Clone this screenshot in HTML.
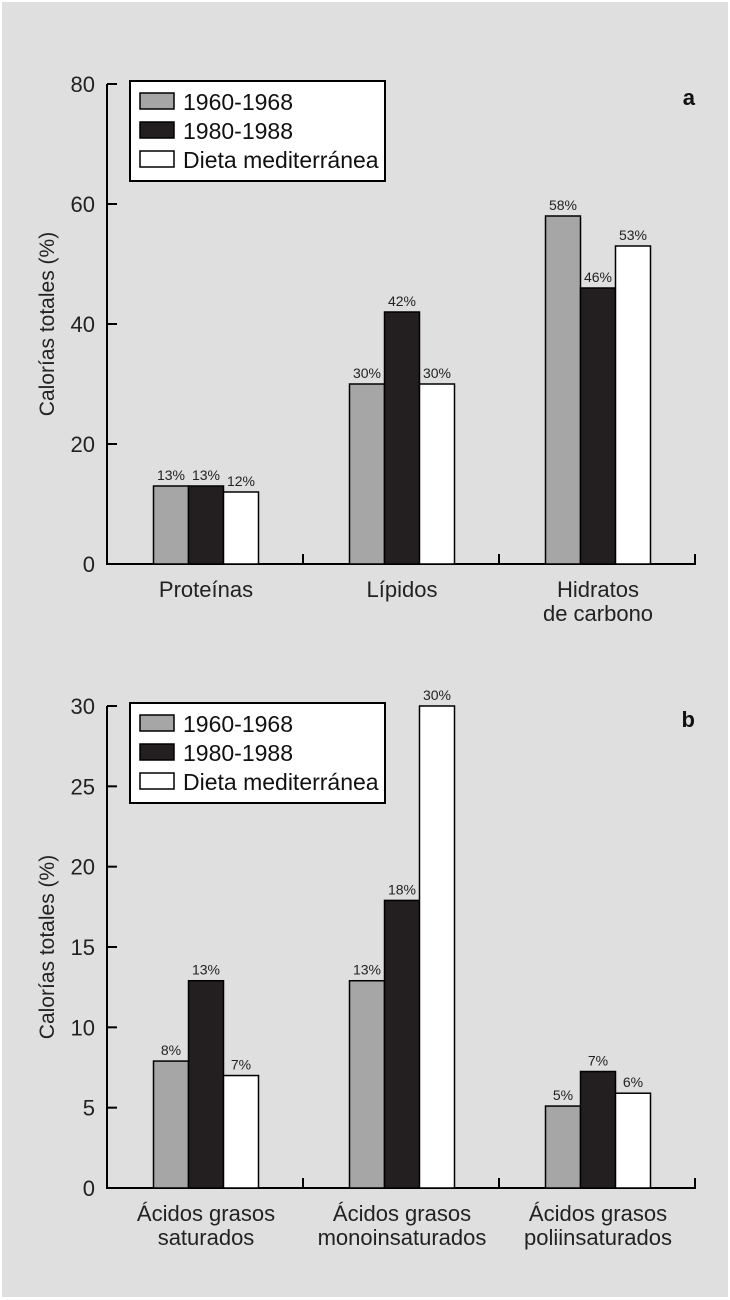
<!DOCTYPE html>
<html><head><meta charset="utf-8"><style>
html,body{margin:0;padding:0;background:#fff;}
svg{display:block;font-family:"Liberation Sans",sans-serif;}
</style></head><body>
<svg id="chart" width="730" height="1300" viewBox="0 0 730 1300">
<rect x="2" y="2" width="726" height="1295" fill="#dfdfdf"/>
</svg>
<script>
const seriesNames = ["1960-1968","1980-1988","Dieta mediterránea"];
const seriesFills = ["#a6a6a6","#231f20","#ffffff"];
const catsA = [["Proteínas"],["Lípidos"],["Hidratos","de carbono"]];
const a1960 = [13,30,58];
const a1980 = [13,42,46];
const aMed = [12,30,53];
const labelsA1960 = ["13%","30%","58%"];
const labelsA1980 = ["13%","42%","46%"];
const labelsAMed = ["12%","30%","53%"];
const ticksA = [0,20,40,60,80];
const catsB = [["Ácidos grasos","saturados"],["Ácidos grasos","monoinsaturados"],["Ácidos grasos","poliinsaturados"]];
const b1960 = [7.9,12.9,5.1];
const b1980 = [12.9,17.9,7.25];
const bMed = [7,30,5.9];
const labelsB1960 = ["8%","13%","5%"];
const labelsB1980 = ["13%","18%","7%"];
const labelsBMed = ["7%","30%","6%"];
const ticksB = [0,5,10,15,20,25,30];

const NS="http://www.w3.org/2000/svg";
const svg=document.getElementById('chart');
function mk(tag,attrs,parent){const e=document.createElementNS(NS,tag);for(const k in attrs)e.setAttribute(k,attrs[k]);(parent||svg).appendChild(e);return e;}

function panel(id,y0,y1,max,ticks,cats,series,labels,letter,legY){
  const g=mk('g',{});
  
  
  const xL=107,xR=695;
  const y=v=>y1-(v/max)*(y1-y0);
  const bw=(xR-xL)/cats.length;
  const ax=mk('path',{d:`M${xL} ${y0} V${y1} H${xR} V${y1-10}`,fill:'none',stroke:'#000','stroke-width':2},g);
  
  
  for(let i=1;i<cats.length;i++){
    const t=mk('line',{x1:xL+bw*i,x2:xL+bw*i,y1:y1,y2:y1-10,stroke:'#000','stroke-width':2},g);
    
    
  }
  ticks.forEach(v=>{
    const t=mk('line',{x1:xL,x2:xL+10,y1:y(v),y2:y(v),stroke:'#000','stroke-width':2},g);
    
    
    const l=mk('text',{x:xL-12,y:y(v)+8,'text-anchor':'end','font-size':22,fill:'#222'},g);
    l.textContent=v;
    
    
  });
  const tt=mk('text',{x:0,y:0,'text-anchor':'middle','font-size':21,fill:'#222',transform:`translate(54,${(y0+y1)/2}) rotate(-90)`},g);
  tt.textContent='Calorías totales (%)';
  
  
  const barW=35;
  cats.forEach((c,i)=>{
    const cx=xL+bw*(i+0.5)+1;
    series.forEach((s,j)=>{
      const x=cx-1.5*barW+j*barW;
      const r=mk('rect',{x:x,y:y(s[i]),width:barW,height:y1-y(s[i]),fill:seriesFills[j],stroke:'#000','stroke-width':1.5},g);
      
      
      const t=mk('text',{x:x+barW/2,y:y(s[i])-6,'text-anchor':'middle','font-size':14,fill:'#222'},g);
      t.textContent=labels[j][i];
      
      
    });
    c.forEach((line,k)=>{
      const t=mk('text',{x:cx,y:y1+33+k*24,'text-anchor':'middle','font-size':22,fill:'#222'},g);
      t.textContent=line;
      
      
    });
  });
  const lg=mk('g',{},g);
  
  
  mk('rect',{x:130,y:legY,width:255,height:100,fill:'#fff',stroke:'#000','stroke-width':2},lg);
  seriesNames.forEach((n,j)=>{
    const sw=mk('rect',{x:140,y:legY+12+j*29,width:34,height:16,fill:seriesFills[j],stroke:'#000','stroke-width':1.5},lg);
    
    
    const t=mk('text',{x:183,y:legY+29+j*29,'font-size':23,fill:'#111'},lg);
    t.textContent=n;
    
    
  });
  const L=mk('text',{x:695,y:y0+21,'text-anchor':'end','font-size':22,'font-weight':'bold',fill:'#111'},g);
  L.textContent=letter;
  
  
}
panel('a',84,564,80,ticksA,catsA,[a1960,a1980,aMed],[labelsA1960,labelsA1980,labelsAMed],'a',81);
panel('b',706,1188,30,ticksB,catsB,[b1960,b1980,bMed],[labelsB1960,labelsB1980,labelsBMed],'b',703);
</script>
</body></html>
